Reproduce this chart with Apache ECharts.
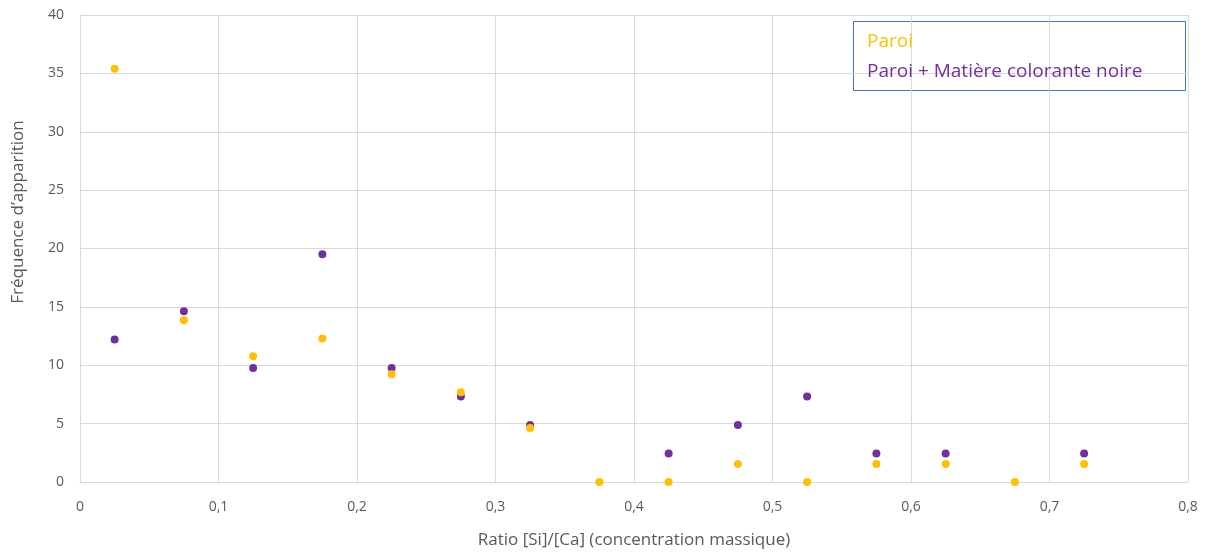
<!DOCTYPE html>
<html><head><meta charset="utf-8">
<script src="https://cdn.jsdelivr.net/npm/echarts@6/dist/echarts.min.js"></script>
<style>html,body{margin:0;padding:0;background:#fff}#c{width:1209px;height:553px}</style>
</head><body><div id="c"></div>
<script>
var xRatio = [0.025,0.075,0.125,0.175,0.225,0.275,0.325,0.375,0.425,0.475,0.525,0.575,0.625,0.675,0.725];
var paroi = [35.4,13.85,10.77,12.3,9.23,7.69,4.62,0,0,1.54,0,1.54,1.54,0,1.54];
var paroiNoire = [12.2,14.63,9.76,19.51,9.76,7.32,4.88,null,2.44,4.88,7.32,2.44,2.44,null,2.44];
var seriesNames = ['Paroi','Paroi + Matière colorante noire'];
var colors = ['#FFC000','#7030A0'];
function pairs(v){return xRatio.map(function(x,i){return v[i]==null?[x,'-']:[x,v[i]];});}
var font = 'Open Sans, Lato, sans-serif';
var chart = echarts.init(document.getElementById('c'));
chart.setOption({
  animation:false,
  grid:{left:80,right:21,top:15,bottom:71,containLabel:false,outerBoundsMode:'none'},
  legend:{
    orient:'vertical', left:862, top:31, itemWidth:0, itemHeight:0, itemGap:9,
    icon:'rect', selectedMode:false, padding:0,
    data:[{name:seriesNames[0],textStyle:{color:colors[0]}},{name:seriesNames[1],textStyle:{color:colors[1]}}],
    textStyle:{fontFamily:font,fontSize:19,lineHeight:21}
  },
  graphic:[
    {type:'rect',shape:{x:853.5,y:21.5,width:332,height:69},style:{fill:'#fff',stroke:'#4472C4',lineWidth:1},z:-1},
    {type:'text',x:18,y:212,rotation:Math.PI/2,style:{text:'Fréquence d’apparition',fill:'#595959',font:'17px '+font,align:'center',verticalAlign:'middle'}}
  ],
  xAxis:{type:'value',min:0,max:0.8,interval:0.1,
    name:'Ratio [Si]/[Ca] (concentration massique)',nameLocation:'middle',nameGap:50,
    nameTextStyle:{color:'#595959',fontSize:17,fontFamily:font},
    axisLine:{show:true,lineStyle:{color:'#d9d9d9'}},axisTick:{show:false},
    axisLabel:{color:'#595959',fontSize:14,fontFamily:font,margin:18,formatter:function(v){return String(+v.toFixed(1)).replace('.',',');}},
    splitLine:{show:true,lineStyle:{color:'#d9d9d9'}}},
  yAxis:{type:'value',min:0,max:40,interval:5,
    axisLine:{show:true,lineStyle:{color:'#d9d9d9'}},axisTick:{show:false},
    axisLabel:{color:'#595959',fontSize:14,fontFamily:font,margin:16},
    splitLine:{show:true,lineStyle:{color:'#d9d9d9'}}},
  series:[
    {name:seriesNames[1],type:'scatter',symbolSize:8,itemStyle:{color:colors[1],opacity:1},data:pairs(paroiNoire),z:2},
    {name:seriesNames[0],type:'scatter',symbolSize:8,itemStyle:{color:colors[0],opacity:1},data:pairs(paroi),z:3}
  ]
});
</script></body></html>
